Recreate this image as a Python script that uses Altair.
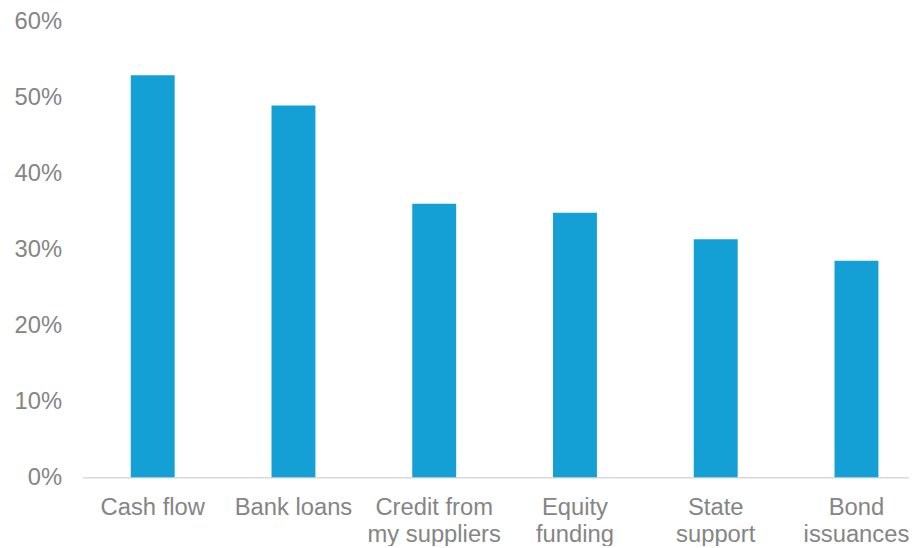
import altair as alt
import pandas as pd

categories = ["Cash flow", "Bank loans", "Credit from\nmy suppliers", "Equity\nfunding", "State\nsupport", "Bond\nissuances"]
values = [0.529, 0.489, 0.360, 0.348, 0.313, 0.285]

df = pd.DataFrame({"category": categories, "value": values})

chart = alt.Chart(df).mark_bar(color="#14A0D4").encode(
    x=alt.X("category:N", sort=None,
            scale=alt.Scale(range=[0, 852], paddingInner=0.688, paddingOuter=0.344),
            axis=alt.Axis(title=None, labelAngle=0, labelFontSize=24, labelColor="#858585",
                          labelFont="Liberation Sans", labelPadding=19, tickSize=0, ticks=False,
                          domainColor="#d9d9d9", domainWidth=1.5, labelLimit=400,
                          labelLineHeight=27,
                          labelExpr="split(datum.label, '\\n')")),
    y=alt.Y("value:Q", scale=alt.Scale(domain=[0, 0.6]),
            axis=alt.Axis(title=None, format=".0%", values=[0, 0.1, 0.2, 0.3, 0.4, 0.5, 0.6],
                          labelFontSize=24, labelColor="#858585", labelFont="Liberation Sans",
                          labelPadding=21, tickSize=0, ticks=False, domain=False, grid=False)),
).properties(
    width=834, height=460,
    autosize=alt.AutoSizeParams(type="none"),
    padding={"left": 75, "right": 0, "top": 11, "bottom": 67},
).configure_view(stroke=None)

chart.save("out.html", embed_options={"renderer": "svg", "actions": False})
